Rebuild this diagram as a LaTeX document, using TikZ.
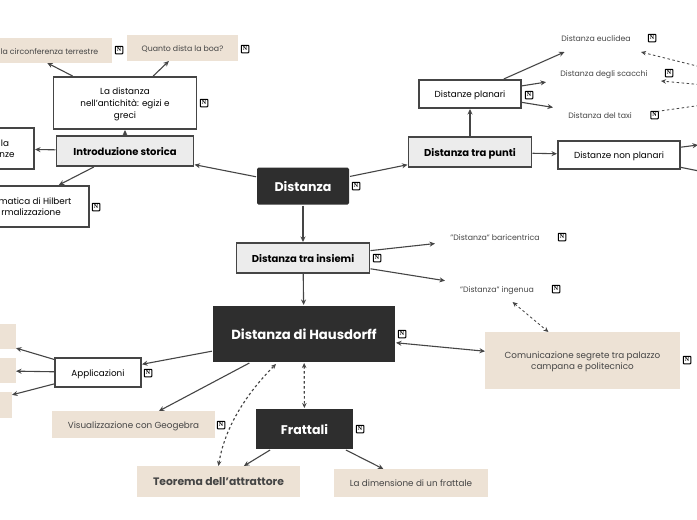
\documentclass[tikz,border=0pt]{standalone}
\usepackage{fontspec}
\setmainfont{Poppins}
\newfontfamily\iconfont{Liberation Serif}
\usetikzlibrary{arrows.meta,calc}
\definecolor{ink}{HTML}{454545}
\definecolor{darkbox}{HTML}{2E2E2E}
\definecolor{tan}{HTML}{EDE2D5}
\definecolor{lightbox}{HTML}{ECECEC}
\newcommand{\T}[1]{\raisebox{-1.2pt}[\height][\depth]{\begin{tabular}{@{}c@{}}#1\end{tabular}}}
\newcommand{\TB}[1]{\raisebox{-2.6pt}[\height][\depth]{\begin{tabular}{@{}c@{}}#1\end{tabular}}}
\newcommand{\TR}[1]{\raisebox{-1.2pt}[\height][\depth]{\begin{tabular}{@{}r@{}}#1\end{tabular}}}
\tikzset{
  every node/.style={inner sep=0pt,outer sep=0pt,align=center,text=ink},
  small/.style={font=\fontsize{7.8}{11.6}\selectfont},
  mid/.style={font=\fontsize{8.8}{11.8}\selectfont},
  outline/.style={draw=ink,line width=1.1pt,fill=white,text=black,mid,outer sep=1pt},
  graybox/.style={draw=ink,line width=1.1pt,fill=lightbox,text=black,font=\fontsize{10}{11}\selectfont\bfseries,outer sep=1pt},
  darknode/.style={fill=darkbox,text=white,font=\fontsize{12.6}{13}\selectfont\bfseries,outer sep=1pt},
  tanbox/.style={fill=tan,mid},
  plain/.style={small},
  notion/.style={draw=black,line width=1pt,fill=white,minimum size=7.5pt,rounded corners=0.6pt,text=black,font=\iconfont\fontsize{6}{6}\selectfont\bfseries},
  link/.style={draw=ink,line width=1.1pt,-{Stealth[length=5.5pt,width=5pt]}},
  dashlink/.style={draw=ink,line width=0.85pt,dash pattern=on 2.5pt off 2.5pt,-{Stealth[length=5pt,width=4.5pt]}},
  bothlink/.style={dashlink,{Stealth[length=5pt,width=4.5pt]}-{Stealth[length=5pt,width=4.5pt]}},
  thickdash/.style={bothlink,line width=1.15pt},
}
\begin{document}
\begin{tikzpicture}[x=1pt,y=-1pt]
\useasboundingbox (0,0) rectangle (697,520);
\clip (0,0) rectangle (697,520);
% centre
\node[darknode,minimum width=92pt,minimum height=37pt,rounded corners=1.5pt] (dist) at (303,186) {\TB{Distanza}};
\node[darknode,minimum width=182pt,minimum height=56pt,font=\fontsize{13.2}{14}\selectfont\bfseries] (haus) at (304,334) {\TB{Distanza di Hausdorff}};
\node[darknode,minimum width=97pt,minimum height=40pt] (fratt) at (304.5,429) {\TB{Frattali}};
\node[graybox,minimum width=133pt,minimum height=30pt] (ins) at (303,258) {\TB{Distanza tra insiemi}};
\node[graybox,minimum width=137pt,minimum height=30pt] (intro) at (125,151) {\TB{Introduzione storica}};
\node[graybox,minimum width=123pt,minimum height=30pt] (punti) at (470,152) {\TB{Distanza tra punti}};
% history
\node[outline,minimum width=143pt,minimum height=52pt] (anti) at (125,103) {\T{La distanza\\nell'antichità: egizi e\\greci}};
\node[tanbox,small,minimum width=178pt,minimum height=25pt] (circ) at (23,50.5) {\T{\hspace*{53pt}la circonferenza terrestre}};
\node[tanbox,small,minimum width=111pt,minimum height=26pt] (boa) at (182.5,48) {\T{Quanto dista la boa?}};
\node[outline,minimum width=114pt,minimum height=41pt] (lanze) at (-23,148.5) {\makebox[100pt][r]{\TR{la\hspace*{18pt}\mbox{}\\nze\hspace*{12.5pt}\mbox{}}}};
\node[outline,minimum width=144pt,minimum height=41pt] (hilb) at (17,206.5) {\T{\hspace*{36pt}matica di Hilbert\\\hspace*{28pt}rmalizzazione}};
% planar
\node[outline,minimum width=102pt,minimum height=28pt] (plan) at (470,94) {\T{Distanze planari}};
\node[outline,minimum width=122pt,minimum height=28pt] (nonplan) at (619,155) {\T{Distanze non planari}};
\node[plain,minimum width=90pt,minimum height=28pt] (eucl) at (596,38) {\T{Distanza euclidea}};
\node[plain,minimum width=116pt,minimum height=20pt] (scac) at (604,73) {\T{Distanza degli scacchi}};
\node[plain,minimum width=94pt,minimum height=20pt] (taxi) at (600,115) {\T{Distanza del taxi}};
% sets
\node[plain,minimum width=120pt,minimum height=20pt] (bari) at (495,237) {\T{"Distanza" baricentrica}};
\node[plain,minimum width=104pt,minimum height=26pt] (inge) at (497,289) {\T{"Distanza" ingenua}};
\node[tanbox,minimum width=195pt,minimum height=57pt] (comm) at (582.5,360.5) {\T{Comunicazione segrete tra palazzo\\campana e politecnico}};
% applications
\node[outline,minimum width=86pt,minimum height=29pt] (appl) at (98,372.5) {\T{Applicazioni}};
\node[tanbox,minimum width=78pt,minimum height=25pt] (ap1) at (-23,336.5) {};
\node[tanbox,minimum width=78pt,minimum height=25pt] (ap2) at (-23,370.5) {};
\node[tanbox,minimum width=78pt,minimum height=26pt] (ap3) at (-27,405) {};
\node[tanbox,minimum width=163pt,minimum height=27pt] (vis) at (133.5,424.5) {\T{Visualizzazione con Geogebra}};
\node[tanbox,minimum width=163pt,minimum height=31pt,font=\fontsize{10.8}{12}\selectfont\bfseries] (teo) at (218.5,481.5) {\T{Teorema dell'attrattore}};
\node[tanbox,minimum width=154pt,minimum height=28pt] (dim) at (411,483) {\T{La dimensione di un frattale}};
% notion icons
\foreach \n/\x/\y in {a/119/50,b/245/49,c/204/103,d/96/207,e/652/38,f/669/73,g/654.5/115,h/529/95,i/356/186,j/377/258,k/562/237,l/556/289,m/402/334,o/687/360,p/148/373,q/221/425,r/360/429}
  \node[notion] (icon\n) at (\x,\y) {N};
% off-page ends
\coordinate (r1) at (699,66.5);
\coordinate (r2) at (699,84.5);
\coordinate (r3) at (699,105.5);
\coordinate (r4) at (698,145);
\coordinate (r5) at (699,171);
% connectors
\draw[link] (dist) -- (intro);
\draw[link] (dist) -- (punti);
\draw[link] (dist) -- (ins);
\draw[link] (ins) -- (haus);
\draw[link] (ins) -- (bari);
\draw[link] (ins) -- (inge);
\draw[link] (intro) -- (anti);
\draw[link] (intro) -- (lanze);
\draw[link] (intro) -- (hilb);
\draw[link] (anti) -- (circ);
\draw[link] (anti) -- (boa);
\draw[link] (punti) -- (plan);
\draw[link] (punti) -- (nonplan);
\draw[link] (plan) -- (eucl);
\draw[link] (plan) -- (scac);
\draw[link] (plan) -- (taxi);
\draw[link] (nonplan) -- (r4);
\draw[draw=ink,line width=1.1pt] (nonplan) -- (r5);
\draw[dashlink] (r1) -- (eucl.south east);
\draw[dashlink] (r2) -- ($(scac.east)+(-1,8)$);
\draw[draw=ink,line width=0.85pt,dash pattern=on 2.5pt off 2.5pt] (r3) -- (icong.north east);
\draw[bothlink] (inge) -- (comm);
\draw[link,{Stealth[length=5.5pt,width=5pt]}-{Stealth[length=5.5pt,width=5pt]}] (haus) -- (comm);
\draw[link] (haus) -- (appl);
\draw[link] (haus) -- (vis);
\draw[link] (appl) -- (ap1);
\draw[link] (appl) -- (ap2);
\draw[link] (appl) -- (ap3);
\draw[thickdash] (haus) -- (fratt);
\draw[link] (fratt) -- (teo);
\draw[link] (fratt) -- (dim);
\draw[thickdash] (teo.north) .. controls ($(teo.north)+(6,-38)$) and ($(haus.south)+(-58,31)$) .. ($(haus.south)+(-28,1)$);
\end{tikzpicture}
\end{document}
